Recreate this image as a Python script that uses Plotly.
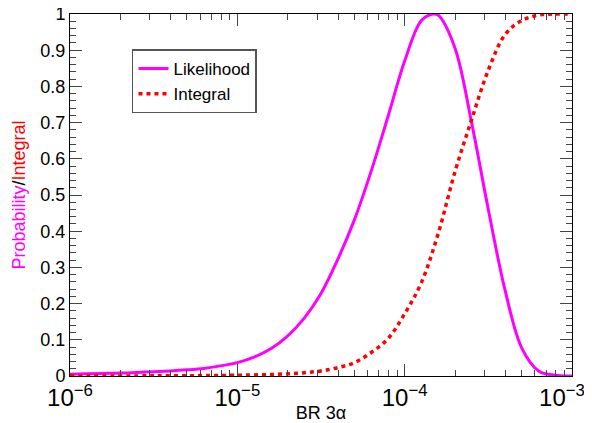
import plotly.graph_objects as go

# log10(BR 3alpha) sample positions and curve values
lik_logx = [-6.0, -5.9, -5.8, -5.7, -5.6, -5.5, -5.4, -5.3, -5.2, -5.1, -5.0, -4.9, -4.8,
            -4.7, -4.6, -4.5, -4.4, -4.3, -4.2, -4.1, -4.0, -3.9, -3.83, -3.8, -3.7,
            -3.6, -3.5, -3.4, -3.3, -3.2, -3.1, -3.0]
lik_vals = [0.005, 0.006, 0.007, 0.008, 0.010, 0.012, 0.014, 0.017, 0.021, 0.028, 0.037,
            0.052, 0.075, 0.110, 0.160, 0.228, 0.322, 0.432, 0.566, 0.716, 0.870, 0.982,
            1.0, 0.997, 0.907, 0.700, 0.460, 0.237, 0.077, 0.014, 0.002, 0.0]

int_logx = [-6.0, -5.5, -5.0, -4.9, -4.8, -4.7, -4.6, -4.5, -4.4, -4.3, -4.2, -4.1, -4.0,
            -3.9, -3.8, -3.7, -3.6, -3.5, -3.4, -3.3, -3.2, -3.1, -3.0]
int_vals = [0.0, 0.0005, 0.002, 0.003, 0.004, 0.006, 0.009, 0.014, 0.023, 0.037, 0.065,
            0.103, 0.172, 0.258, 0.393, 0.563, 0.708, 0.845, 0.943, 0.982, 0.997, 1.0, 1.0]

x_range_log = [-6, -3]
x_ticks = [1e-6, 1e-5, 1e-4, 1e-3]
x_ticklabels = ["10<sup>\u22126</sup>", "10<sup>\u22125</sup>", "10<sup>\u22124</sup>",
                "10<sup>\u22123</sup>\u00a0\u00a0\u00a0"]
y_range = [0, 1]
y_ticks = [0, 0.1, 0.2, 0.3, 0.4, 0.5, 0.6, 0.7, 0.8, 0.9, 1]
y_ticklabels = ["0", "0.1", "0.2", "0.3", "0.4", "0.5", "0.6", "0.7", "0.8", "0.9", "1"]

lik_x = [10 ** v for v in lik_logx]
int_x = [10 ** v for v in int_logx]

font = "Liberation Sans, Arial, Helvetica, sans-serif"
tickc = "#444444"

fig = go.Figure()
fig.add_trace(go.Scatter(x=lik_x, y=lik_vals, mode="lines", name="Likelihood",
                         line=dict(color="#ff00ff", width=3, shape="spline", smoothing=1.0)))
fig.add_trace(go.Scatter(x=int_x, y=int_vals, mode="lines", name="Integral",
                         line=dict(color="#ff0000", width=3.5, dash="4px,4px",
                                   shape="spline", smoothing=1.0)))
# invisible trace carrying the minor-tick overlay axes
fig.add_trace(go.Scatter(x=lik_x, y=lik_vals, mode="lines", xaxis="x2", yaxis="y2",
                         showlegend=False, hoverinfo="skip", opacity=0, line=dict(width=0)))

# the page body has an 8px margin, so the figure is sized to fill the remaining window
fig.update_layout(
    width=584, height=415,
    margin=dict(l=62, r=20, t=6, b=47, autoexpand=False),
    paper_bgcolor="white", plot_bgcolor="white",
    font=dict(family=font, size=18, color="black"),
    showlegend=True,
    legend=dict(x=0.1235, y=0.902, xanchor="left", yanchor="top",
                bgcolor="white", bordercolor="#555555", borderwidth=1.5,
                font=dict(size=17), tracegroupgap=0),
    xaxis=dict(type="log", range=x_range_log, tickvals=x_ticks, ticktext=x_ticklabels,
               showgrid=False, zeroline=False, ticklabeloverflow="allow",
               showline=True, linecolor="black", linewidth=1, mirror="allticks",
               ticks="inside", ticklen=12, tickcolor=tickc, tickwidth=1,
               title=dict(text="BR 3α", font=dict(size=18), standoff=2),
               tickfont=dict(size=24)),
    xaxis2=dict(type="log", range=x_range_log, dtick="D1", overlaying="x", side="bottom",
                showticklabels=False, showgrid=False, zeroline=False, showline=False,
                mirror="allticks", ticks="inside", ticklen=6, tickcolor=tickc, tickwidth=1),
    yaxis=dict(range=y_range, tickvals=y_ticks, ticktext=y_ticklabels,
               showgrid=False, zeroline=False, ticklabeloverflow="allow",
               showline=True, linecolor="black", linewidth=1, mirror="allticks",
               ticks="inside", ticklen=12, tickcolor=tickc, tickwidth=1,
               title=dict(text='<span style="color:#ff00ff">Probability</span>/<span style="color:#ff0000">Integral</span>',
                          font=dict(size=18), standoff=10),
               tickfont=dict(size=18)),
    yaxis2=dict(range=y_range, dtick=0.02, tick0=0, overlaying="y", side="left",
                showticklabels=False, showgrid=False, zeroline=False, showline=False,
                mirror="allticks", ticks="inside", ticklen=6, tickcolor=tickc, tickwidth=1),
)

fig.write_html("out.html")
